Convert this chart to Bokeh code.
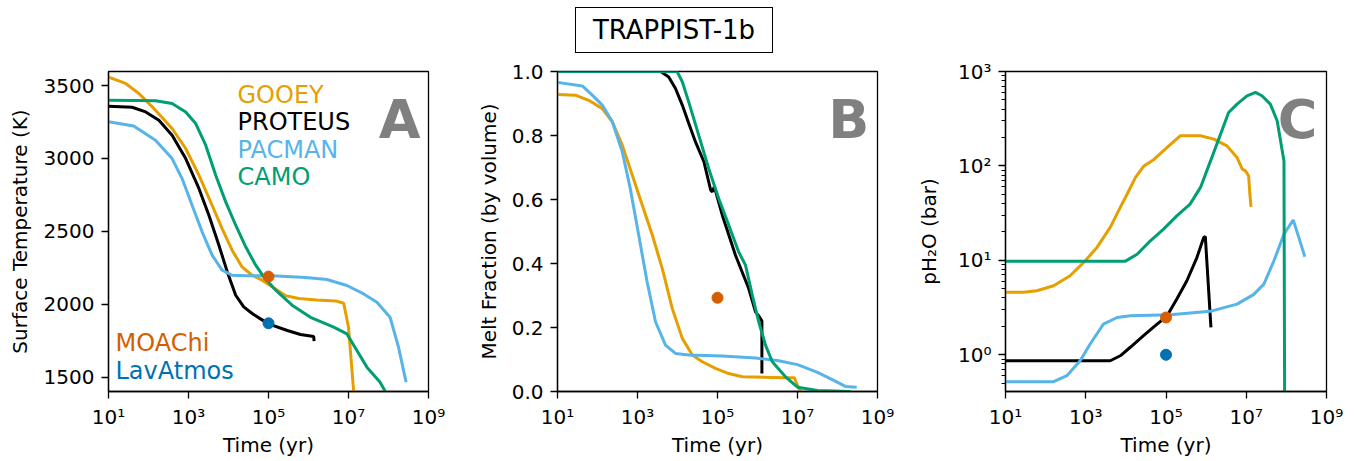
import numpy as np
from bokeh.plotting import figure
from bokeh.models import FixedTicker, CustomJSTickFormatter, Label, Div, Range1d
from bokeh.layouts import row, column
from bokeh.embed import file_html
from bokeh.resources import INLINE

# ---------------- colours ----------------
C_GOOEY = "#E69F00"
C_PROTEUS = "#000000"
C_PACMAN = "#56B4E9"
C_CAMO = "#009E73"
C_MOACHI = "#D55E00"
C_LAV = "#0072B2"

TITLE = "TRAPPIST-1b"
models = ["GOOEY", "PROTEUS", "PACMAN", "CAMO"]
point_models = ["MOAChi", "LavAtmos"]
x_ticks = [1e1, 1e3, 1e5, 1e7, 1e9]

# ---------------- Panel A: surface temperature (K) ----------------
A_gooey_logt = [1.0, 1.43, 1.76, 2.175, 2.59, 2.93, 3.26, 3.59, 3.84, 4.09, 4.34, 4.59, 4.84, 5.09, 5.43, 5.76, 6.2, 6.68, 6.88, 7.0, 7.13]
A_gooey_T = [3558, 3514, 3445, 3331, 3205, 3068, 2885, 2679, 2519, 2371, 2256, 2199, 2165, 2120, 2058, 2040, 2030, 2023, 2007, 1843, 1402]
A_proteus_logt = [1.0, 1.59, 1.93, 2.26, 2.59, 2.93, 3.26, 3.51, 3.76, 3.97, 4.18, 4.38, 4.6, 4.8, 5.0, 5.47, 5.8, 6.13, 6.14]
A_proteus_T = [3358, 3351, 3319, 3262, 3159, 2999, 2794, 2611, 2405, 2222, 2062, 1982, 1935, 1900, 1866, 1820, 1793, 1779, 1747]
A_pacman_logt = [1.0, 1.63, 2.175, 2.59, 2.84, 3.09, 3.34, 3.59, 3.84, 4.09, 4.43, 5.09, 5.93, 6.46, 6.96, 7.38, 7.71, 8.04, 8.25, 8.44]
A_pacman_T = [3251, 3223, 3125, 2999, 2862, 2679, 2497, 2337, 2234, 2199, 2195, 2195, 2183, 2170, 2129, 2071, 2014, 1911, 1706, 1466]
A_camo_logt = [1.0, 1.7, 2.175, 2.59, 2.93, 3.18, 3.43, 3.68, 3.93, 4.18, 4.43, 4.68, 4.88, 5.18, 5.59, 6.05, 6.63, 6.96, 7.21, 7.46, 7.79, 7.92]
A_camo_T = [3399, 3398, 3395, 3377, 3319, 3239, 3091, 2885, 2702, 2542, 2394, 2268, 2188, 2097, 1994, 1911, 1843, 1797, 1683, 1569, 1466, 1402]
A_moachi_T = 2190
A_lavatmos_T = 1870

# ---------------- Panel B: melt fraction ----------------
B_gooey_logt = [1.0, 1.45, 1.78, 2.12, 2.37, 2.62, 2.87, 3.12, 3.37, 3.62, 3.87, 4.12, 4.37, 4.62, 4.95, 5.28, 5.62, 6.7, 6.92, 7.04, 7.1]
B_gooey_phi = [0.928, 0.926, 0.910, 0.884, 0.843, 0.770, 0.676, 0.582, 0.489, 0.384, 0.259, 0.166, 0.114, 0.093, 0.072, 0.056, 0.046, 0.043, 0.043, 0.008, 0.0]
B_proteus_logt = [1.0, 3.58, 3.78, 3.95, 4.12, 4.28, 4.45, 4.66, 4.83, 4.87, 4.92, 5.12, 5.45, 5.78, 5.95, 6.05, 6.11, 6.11]
B_proteus_phi = [1.0, 1.0, 0.983, 0.947, 0.895, 0.838, 0.780, 0.718, 0.629, 0.624, 0.64, 0.551, 0.426, 0.322, 0.249, 0.233, 0.22, 0.056]
B_pacman_logt = [1.0, 1.62, 1.87, 2.12, 2.37, 2.62, 2.82, 3.03, 3.24, 3.45, 3.7, 3.95, 4.28, 5.12, 5.95, 6.5, 7.0, 7.5, 7.92, 8.2, 8.48]
B_pacman_phi = [0.966, 0.955, 0.926, 0.895, 0.843, 0.749, 0.634, 0.489, 0.343, 0.218, 0.145, 0.119, 0.114, 0.111, 0.105, 0.097, 0.084, 0.060, 0.034, 0.016, 0.0135]
B_camo_logt = [1.0, 3.99, 4.12, 4.28, 4.53, 4.78, 5.03, 5.28, 5.53, 5.7, 5.87, 6.03, 6.2, 6.37, 6.7, 7.0, 7.5, 8.33]
B_camo_phi = [1.0, 1.0, 0.968, 0.905, 0.801, 0.697, 0.603, 0.52, 0.436, 0.395, 0.301, 0.218, 0.145, 0.093, 0.046, 0.0135, 0.003, 0.0]
B_moachi_phi = 0.293

# ---------------- Panel C: pH2O (bar) ----------------
C_gooey_logt = [1.0, 1.45, 1.78, 2.2, 2.61, 2.95, 3.28, 3.61, 3.86, 4.03, 4.24, 4.45, 4.70, 5.03, 5.36, 5.86, 6.19, 6.52, 6.77, 6.90, 6.98, 7.06, 7.09, 7.12]
C_gooey_p = [4.6, 4.6, 4.76, 5.38, 6.87, 9.5, 13.7, 22.3, 36.4, 50.1, 75.5, 100, 117, 157, 209, 209, 192, 163, 123, 92.5, 88.7, 78.5, 50.1, 36.9]
C_proteus_logt = [1.0, 3.61, 3.86, 4.11, 4.44, 4.77, 5.02, 5.27, 5.52, 5.77, 5.94, 5.98, 6.12]
C_proteus_p = [0.864, 0.864, 0.975, 1.2, 1.59, 2.1, 2.55, 3.89, 6.08, 10.7, 17.5, 17.8, 1.95]
C_pacman_logt = [1.0, 2.2, 2.53, 2.86, 3.11, 3.44, 3.78, 4.11, 5.11, 6.1, 6.77, 7.18, 7.44, 7.69, 7.94, 8.17, 8.31, 8.46]
C_pacman_p = [0.518, 0.518, 0.6, 0.863, 1.30, 2.11, 2.48, 2.59, 2.65, 2.88, 3.44, 4.33, 5.6, 9.89, 19.0, 26.7, 17.5, 10.9]
C_camo_logt = [1.0, 3.98, 4.28, 4.61, 4.94, 5.27, 5.6, 5.86, 6.11, 6.36, 6.56, 6.77, 7.02, 7.23, 7.39, 7.6, 7.77, 7.94, 7.96]
C_camo_p = [9.75, 9.75, 11.6, 16.1, 21.4, 29.6, 39.4, 59.2, 113, 217, 368, 451, 553, 600, 553, 451, 301, 113, 0.1]
C_moachi_p = 2.48
C_lavatmos_p = 1.0

point_time = 1e5

FONT = "DejaVu Sans"

sup_js = """
const sup = {"0":"\\u2070","1":"\\u00b9","2":"\\u00b2","3":"\\u00b3","4":"\\u2074",
             "5":"\\u2075","6":"\\u2076","7":"\\u2077","8":"\\u2078","9":"\\u2079","-":"\\u207b"};
const e = Math.round(Math.log10(tick));
return "10" + String(e).split("").map(c => sup[c]).join("");
"""


def style(p, ylabel_standoff):
    p.xgrid.visible = False
    p.ygrid.visible = False
    p.outline_line_color = "black"
    p.outline_line_width = 1.3
    p.outline_line_alpha = 1.0
    p.background_fill_color = "white"
    p.border_fill_color = "white"
    for ax in [p.xaxis[0], p.yaxis[0]]:
        ax.axis_line_width = 1.3
        ax.major_tick_line_width = 1.3
        ax.minor_tick_line_width = 1.0
        ax.major_tick_in = 0
        ax.major_tick_out = 7
        ax.minor_tick_in = 0
        ax.minor_tick_out = 4
        ax.major_label_text_font = FONT
        ax.major_label_text_font_size = "20px"
        ax.major_label_text_color = "black"
        ax.axis_label_text_font = FONT
        ax.axis_label_text_font_size = "20px"
        ax.axis_label_text_font_style = "normal"
        ax.axis_label_text_color = "black"
    p.xaxis.major_label_standoff = 6
    p.xaxis.axis_label_standoff = 1
    p.yaxis.major_label_standoff = 7
    p.yaxis.axis_label_standoff = ylabel_standoff
    p.xaxis.ticker = FixedTicker(ticks=x_ticks, minor_ticks=[])
    p.xaxis.formatter = CustomJSTickFormatter(code=sup_js)
    p.xaxis.axis_label = "Time (yr)"


def make_fig(y_range, y_type, width, mbl, mbr, ylabel_standoff):
    p = figure(width=width, height=403, x_axis_type="log", y_axis_type=y_type,
               x_range=Range1d(1e1, 1e9), y_range=y_range,
               output_backend="svg", toolbar_location=None,
               min_border_left=mbl, min_border_right=mbr,
               min_border_top=13, min_border_bottom=70)
    style(p, ylabel_standoff)
    return p


def t(logt):
    return [10 ** v for v in logt]


def letter(p, txt):
    p.add_layout(Label(x=312, y=272, x_units="screen", y_units="screen", text=txt,
                       text_align="right", text_baseline="alphabetic",
                       text_font=FONT, text_font_size="54px", text_font_style="bold",
                       text_color="#808080"))


LW = 3

# ---------------- Panel A ----------------
pA = make_fig(Range1d(1402, 3596), "linear", 457, 108, 29, 9)
pA.yaxis.axis_label = "Surface Temperature (K)"
pA.yaxis.ticker = FixedTicker(ticks=[1500, 2000, 2500, 3000, 3500], minor_ticks=[])
pA.line(t(A_gooey_logt), A_gooey_T, line_color=C_GOOEY, line_width=LW)
pA.line(t(A_proteus_logt), A_proteus_T, line_color=C_PROTEUS, line_width=LW)
pA.line(t(A_pacman_logt), A_pacman_T, line_color=C_PACMAN, line_width=LW)
pA.line(t(A_camo_logt), A_camo_T, line_color=C_CAMO, line_width=LW)
pA.scatter([point_time], [A_moachi_T], size=11, color=C_MOACHI)
pA.scatter([point_time], [A_lavatmos_T], size=11, color=C_LAV)
for name, col, yb in zip(models, [C_GOOEY, C_PROTEUS, C_PACMAN, C_CAMO], [297, 269.5, 242, 215]):
    pA.add_layout(Label(x=129, y=yb, x_units="screen", y_units="screen", text=name,
                        text_align="left", text_baseline="alphabetic",
                        text_font=FONT, text_font_size="24px", text_color=col))
for name, col, yb in zip(point_models, [C_MOACHI, C_LAV], [48.5, 21]):
    pA.add_layout(Label(x=7, y=yb, x_units="screen", y_units="screen", text=name,
                        text_align="left", text_baseline="alphabetic",
                        text_font=FONT, text_font_size="24px", text_color=col))
letter(pA, "A")

# ---------------- Panel B ----------------
pB = make_fig(Range1d(0, 1), "linear", 448, 100, 28, 8)
pB.yaxis.axis_label = "Melt Fraction (by volume)"
pB.yaxis.ticker = FixedTicker(ticks=[0.0, 0.2, 0.4, 0.6, 0.8, 1.0], minor_ticks=[])
pB.yaxis.formatter = CustomJSTickFormatter(code="return tick.toFixed(1);")
pB.line(t(B_gooey_logt), B_gooey_phi, line_color=C_GOOEY, line_width=LW)
pB.line(t(B_proteus_logt), B_proteus_phi, line_color=C_PROTEUS, line_width=LW)
pB.line(t(B_pacman_logt), B_pacman_phi, line_color=C_PACMAN, line_width=LW)
pB.line(t(B_camo_logt), B_camo_phi, line_color=C_CAMO, line_width=LW)
pB.scatter([point_time], [B_moachi_phi], size=11, color=C_MOACHI)
letter(pB, "B")

# ---------------- Panel C ----------------
pC = make_fig(Range1d(0.408, 1000), "log", 441, 100, 20, 14)
pC.yaxis.axis_label = "pH\u2082O (bar)"
minor_c = [m * 10.0 ** d for d in range(-1, 3) for m in range(2, 10)]
pC.yaxis.ticker = FixedTicker(ticks=[1, 10, 100, 1000], minor_ticks=minor_c)
pC.yaxis.formatter = CustomJSTickFormatter(code=sup_js)
pC.line(t(C_gooey_logt), C_gooey_p, line_color=C_GOOEY, line_width=LW)
pC.line(t(C_proteus_logt), C_proteus_p, line_color=C_PROTEUS, line_width=LW)
pC.line(t(C_pacman_logt), C_pacman_p, line_color=C_PACMAN, line_width=LW)
pC.line(t(C_camo_logt), C_camo_p, line_color=C_CAMO, line_width=LW)
pC.scatter([point_time], [C_moachi_p], size=11, color=C_MOACHI)
pC.scatter([point_time], [C_lavatmos_p], size=11, color=C_LAV)
letter(pC, "C")

title = Div(text=(
    '<div style="margin-left:575px;margin-top:7px;width:198px;height:46px;box-sizing:border-box;'
    'border:1.4px solid black;font-family:\'DejaVu Sans\';font-size:26px;line-height:44px;'
    'text-align:center;color:black;background:white">' + TITLE + '</div>'),
    width=1346, height=58, margin=(0, 0, 0, 0))

layout = column(title, row(pA, pB, pC))

with open("out.html", "w", encoding="utf-8") as f:
    f.write(file_html(layout, INLINE))
